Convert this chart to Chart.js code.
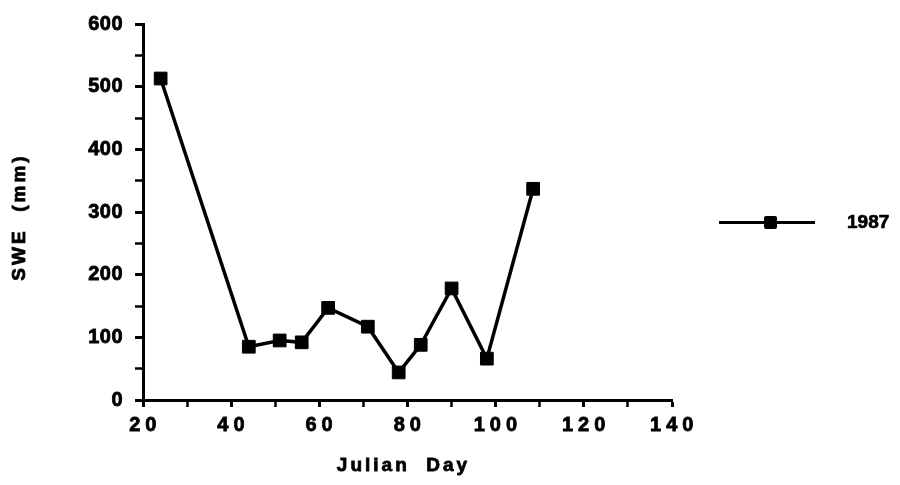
<!DOCTYPE html>
<html>
<head>
<meta charset="utf-8">
<title>SWE 1987</title>
<script src="https://cdn.jsdelivr.net/npm/chart.js"></script>
<style>
  * { margin: 0; padding: 0; box-sizing: border-box; }
  body { background: #fff; width: 900px; height: 485px; overflow: hidden; font-family: "Liberation Sans", Arial, sans-serif; }
  #wrap { position: relative; width: 900px; height: 485px; }
  .legend { position: absolute; left: 719px; top: 210px; height: 24px; display: flex; align-items: center; }
  .legend .line { position: relative; width: 96px; height: 3px; background: #000; }
  .legend .line .sq { position: absolute; left: 45px; top: -5px; width: 13px; height: 13px; background: #000; border-radius: 2px; }
  .legend .txt { margin-left: 32px; font-weight: bold; font-size: 19px; -webkit-text-stroke: 0.7px #000; color: #000; }
</style>
</head>
<body>
<div id="wrap">
  <canvas id="chart" width="900" height="485"></canvas>
  <div class="legend"><div class="line"><div class="sq"></div></div><span class="txt">1987</span></div>
</div>
<script>
const seriesName = '1987';
const julianDay = [24, 44, 51, 56, 62, 71, 78, 83, 90, 98, 108.5];
const swe = [513, 85, 95, 92, 147, 117, 44, 88, 178, 66, 337];
const xTicks = [20, 40, 60, 80, 100, 120, 140];
const yTicks = [0, 100, 200, 300, 400, 500, 600];
const xTitle = 'Julian  Day';
const yTitle = 'SWE  (mm)';

const fontFamily = '"Liberation Sans", Arial, sans-serif';
const tickFont = { family: fontFamily, size: 20, weight: 'bold' };

// axis titles are drawn by hand so they can get the wide letter spacing of the original
const titlePlugin = {
  id: 'titles',
  beforeDraw(chart) {
    chart.ctx.letterSpacing = '0.5px';
  },
  afterDraw(chart) {
    const { ctx, chartArea } = chart;
    ctx.save();
    ctx.letterSpacing = '3px';
    ctx.font = 'bold 19px ' + fontFamily;
    ctx.fillStyle = '#000';
    ctx.strokeStyle = '#000';
    ctx.lineWidth = 0.8;
    ctx.textAlign = 'center';
    ctx.textBaseline = 'middle';
    const cx = (chartArea.left + chartArea.right) / 2 - 4;
    ctx.fillText(xTitle, cx, 466);
    ctx.strokeText(xTitle, cx, 466);
    ctx.translate(20, 217);
    ctx.rotate(-Math.PI / 2);
    ctx.fillText(yTitle, 0, 0);
    ctx.strokeText(yTitle, 0, 0);
    ctx.restore();
  }
};

new Chart(document.getElementById('chart'), {
  type: 'line',
  data: {
    datasets: [{
      label: seriesName,
      data: julianDay.map((d, i) => ({ x: d, y: swe[i] })),
      borderColor: '#000',
      backgroundColor: '#000',
      borderWidth: 3.5,
      pointStyle: 'rect',
      pointRadius: 9,
      pointHoverRadius: 9,
      pointBorderWidth: 1,
      tension: 0
    }]
  },
  plugins: [titlePlugin],
  options: {
    responsive: false,
    animation: false,
    layout: { padding: { top: 20, right: 228, left: 0, bottom: 0 } },
    plugins: { legend: { display: false }, tooltip: { enabled: false } },
    scales: {
      x: {
        type: 'linear',
        min: xTicks[0],
        max: xTicks[xTicks.length - 1],
        afterFit: s => { s.height = 85; },
        border: { display: true, color: '#000', width: 3 },
        grid: { drawOnChartArea: false, drawTicks: true, tickLength: 7, color: '#000',
                tickWidth: c => (c.tick && xTicks.includes(c.tick.value)) ? 3 : 2.5 },
        ticks: { stepSize: 10, color: '#000', font: tickFont, padding: 6, maxRotation: 0, autoSkip: false,
                 textStrokeWidth: 0.8, textStrokeColor: '#000',
                 callback: v => xTicks.includes(v) ? String(v).split('').join('\u2009') : '' },
        title: { display: false }
      },
      y: {
        min: yTicks[0],
        max: yTicks[yTicks.length - 1],
        afterFit: s => { s.width = 143; },
        border: { display: true, color: '#000', width: 3 },
        grid: { drawOnChartArea: false, drawTicks: true, tickLength: 8, color: '#000',
                tickWidth: c => (c.tick && yTicks.includes(c.tick.value)) ? 3 : 2.5 },
        ticks: { stepSize: 50, color: '#000', font: tickFont, padding: 12, autoSkip: false,
                 textStrokeWidth: 0.8, textStrokeColor: '#000',
                 callback: v => yTicks.includes(v) ? v : '' },
        title: { display: false }
      }
    }
  }
});
</script>
</body>
</html>
